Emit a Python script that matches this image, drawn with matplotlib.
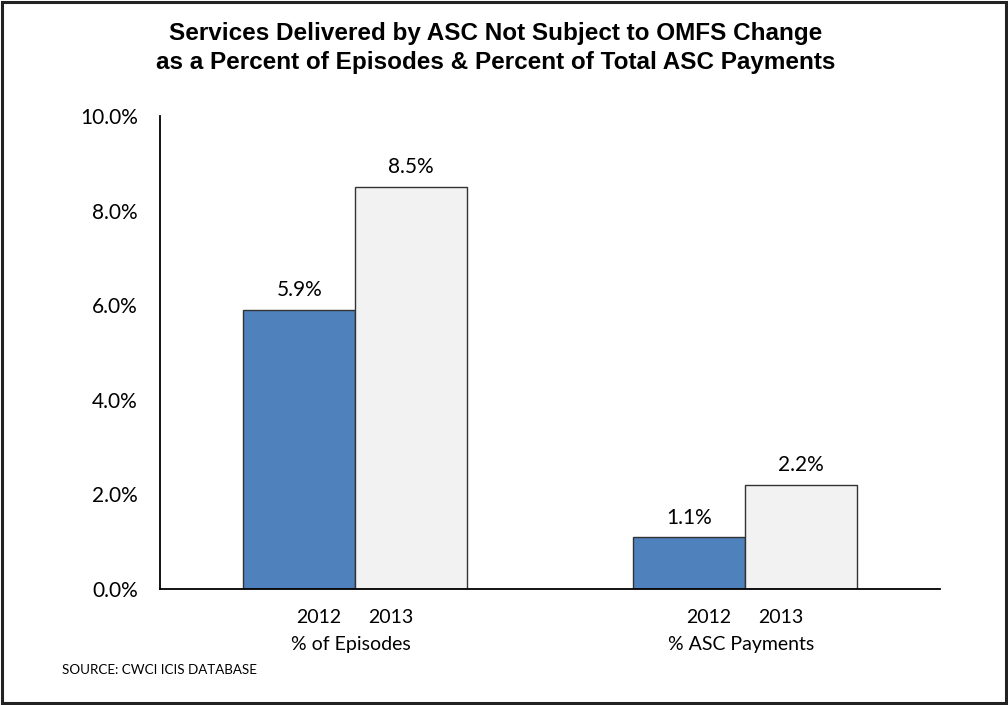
import matplotlib
matplotlib.use("Agg")
import matplotlib.pyplot as plt
import numpy as np
from matplotlib.patches import Rectangle

# values in percent
categories = ["% of Episodes", "% ASC Payments"]
years = ["2012", "2013"]
values_2012 = [5.9, 1.1]
values_2013 = [8.5, 2.2]
yticks = [0, 2, 4, 6, 8, 10]

body_font = ["Lato", "DejaVu Sans"]
title_font = ["Liberation Sans", "DejaVu Sans"]

fig = plt.figure(figsize=(10.08, 7.05), dpi=100)
ax = fig.add_axes([160 / 1008, 116 / 705, 780 / 1008, 473 / 705])

x = np.arange(len(categories))
width = 0.286
bars1 = ax.bar(x - width / 2, values_2012, width, color="#4f81bd", edgecolor="#333333", linewidth=1)
bars2 = ax.bar(x + width / 2, values_2013, width, color="#f2f2f2", edgecolor="#333333", linewidth=1)

for bars, vals in ((bars1, values_2012), (bars2, values_2013)):
    for b, v in zip(bars, vals):
        ax.text(b.get_x() + b.get_width() / 2, v + 0.2, f"{v:.1f}%",
                ha="center", va="bottom", fontsize=15, family=body_font)

ax.set_xlim(-0.5, len(categories) - 0.5)
ax.set_ylim(0, 10)
ax.set_yticks(yticks)
ax.set_yticklabels([f"{t:.1f}%" for t in yticks], family=body_font, fontsize=15)
ax.tick_params(axis="y", length=0, pad=16)
ax.set_xticks([])
for side in ("top", "right"):
    ax.spines[side].set_visible(False)
for side in ("left", "bottom"):
    ax.spines[side].set_linewidth(1.3)

# year labels under each group, category name below
for i, cat in enumerate(categories):
    for j, yr in enumerate(years):
        ax.text(i + (j - 0.5) * 0.185, -0.6, yr, ha="center", va="center",
                fontsize=14, family=body_font)
    ax.text(i - 0.01, -1.18, cat, ha="center", va="center", fontsize=14, family=body_font)

fig.text(0.492, 0.952, "Services Delivered by ASC Not Subject to OMFS Change",
         ha="center", va="center", fontsize=17.5, fontweight="bold", family=title_font)
fig.text(0.492, 0.911, "as a Percent of Episodes & Percent of Total ASC Payments",
         ha="center", va="center", fontsize=17.5, fontweight="bold", family=title_font)

fig.text(62 / 1008, 1 - 670 / 705, "SOURCE: CWCI ICIS DATABASE", ha="left", va="center",
         fontsize=9.6, family=body_font)

# outer frame around the whole chart
fig.patches.append(Rectangle((0.002, 0.003), 0.996, 0.994, transform=fig.transFigure,
                             fill=False, edgecolor="#222222", linewidth=2.2))

fig.savefig("out.png", dpi=100)
